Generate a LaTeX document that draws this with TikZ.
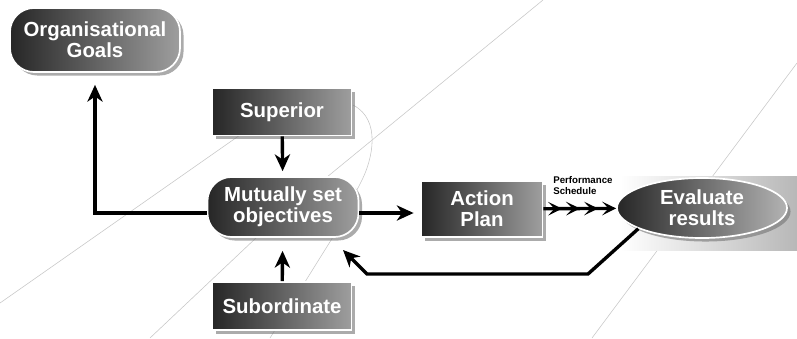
\documentclass[tikz,border=0pt]{standalone}
\usepackage{fontspec}
\setmainfont{Liberation Sans}
\usetikzlibrary{arrows.meta}
\usetikzlibrary{shapes.geometric}
\usetikzlibrary{shadows}

\tikzset{
	box/.style={rectangle, draw=white, line width=1.2pt, left color=black!85, right color=black!38,
		text=white, font=\fontsize{14.5}{15}\selectfont\bfseries, align=center, inner sep=0pt,
		drop shadow={shadow xshift=2.5pt, shadow yshift=-2.5pt, fill=black!55, opacity=.6}},
	roundbox/.style={box, rounded corners=6mm},
	flow/.style={line width=2.4pt, -{Stealth[length=4.2mm, width=3.8mm, inset=1.3mm]}},
	chevrons/.style={line width=2.4pt, -{Stealth[length=3.5mm, width=3.4mm, inset=1.6mm, sep=1mm]
		Stealth[length=3.5mm, width=3.4mm, inset=1.6mm, sep=1mm]
		Stealth[length=3.5mm, width=3.4mm, inset=1.6mm, sep=1mm]
		Stealth[length=3.5mm, width=3.4mm, inset=1.6mm]}},
	faint/.style={black!22, line width=0.4pt}
}

\begin{document}
\begin{tikzpicture}[x=0.025cm, y=-0.025cm]
		\useasboundingbox (0, 0) rectangle (797, 338);
		% background lines
		\draw [faint] (0, 303) -- (240, 135);
		\draw [faint] (543, 0) -- (327, 177);
		\draw [faint] (353, 105) .. controls (382, 120) and (372, 160) .. (362, 180) -- (333, 237) -- (270, 338);
		\draw [faint] (150, 338) -- (257, 237);
		\draw [faint] (592, 338) -- (797, 63);
		\shade [left color=white, right color=black!28] (620, 176) rectangle (797, 250);
		% boxes
		\node [roundbox, minimum width=42.5mm, minimum height=16mm] (goals) at (95, 40) {Organisational\\Goals};
		\node [box, minimum width=34.75mm, minimum height=11.75mm] (sup) at (282, 112) {Superior};
		\node [roundbox, minimum width=37.75mm, minimum height=15mm] (obj) at (283, 207) {Mutually set\\objectives};
		\node [box, minimum width=34.75mm, minimum height=12mm] (sub) at (282, 306) {Subordinate};
		\node [box, minimum width=30.25mm, minimum height=14mm] (act) at (482, 209) {Action\\Plan};
		\node [box, ellipse, minimum width=42.5mm, minimum height=15mm, right color=black!30] (eval) at (702, 208) {Evaluate\\results};
		\node [anchor=north west, inner sep=0pt, align=left, font=\fontsize{6.9}{7.8}\selectfont\bfseries] (perf) at (553, 176) {Performance\\Schedule};
		% arrows
		\draw [flow, shorten >=3mm] ([yshift=-1.5mm]obj.west) -| (goals.south);
		\draw [flow, shorten >=1.25mm] (sup) -- (obj);
		\draw [flow, shorten >=3.25mm] (sub) -- (obj);
		\draw [flow, shorten >=1.75mm] ([yshift=-1.5mm]obj.east) -- ([yshift=-1.5mm]obj.east -| act.west);
		\draw [chevrons] (act) -- (eval);
		\coordinate (back) at (343, 250);
		\draw [flow] (eval.198) -- (588, 274) -- (367, 274) -- (back);
	\end{tikzpicture}
\end{document}
